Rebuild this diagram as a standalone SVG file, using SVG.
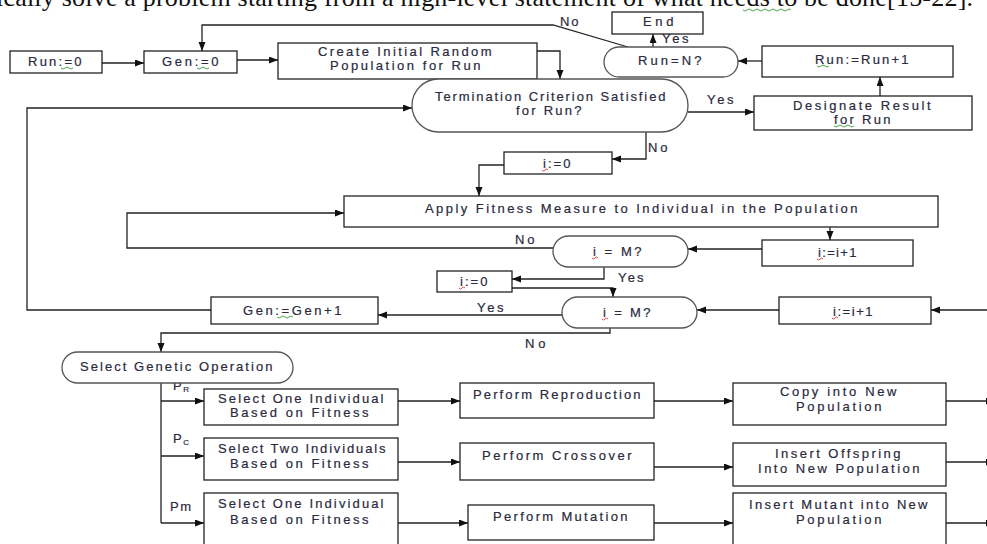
<svg xmlns="http://www.w3.org/2000/svg" width="987" height="544" viewBox="0 0 987 544">
<style>
.bx{fill:#fff;stroke:#222;stroke-width:1.3}
.st{fill:#fff;stroke:#555;stroke-width:1.3}
.t{font-family:"Liberation Sans",Arial,sans-serif;font-size:13px;fill:#2a2a40;stroke:#2a2a40;stroke-width:0.2;letter-spacing:1.5px}
.l{font-family:"Liberation Sans",Arial,sans-serif;font-size:13px;fill:#2a2a40;stroke:#2a2a40;stroke-width:0.2;letter-spacing:1.5px}
.c{fill:none;stroke:#222;stroke-width:1.3;marker-end:url(#ah)}
.cn{fill:none;stroke:#222;stroke-width:1.3}
.sg{fill:none;stroke:#3a9a3a;stroke-width:0.9}
.sr{fill:none;stroke:#e03030;stroke-width:0.9}
</style>
<defs>
<marker id="ah" markerUnits="userSpaceOnUse" markerWidth="10" markerHeight="8" refX="9" refY="3.5" orient="auto">
<path d="M0,0 L9,3.5 L0,7 z" fill="#111"/>
</marker>
</defs>
<rect width="987" height="544" fill="#fff"/>
<text x="-4" y="6" font-family="'Liberation Serif','Times New Roman',serif" font-size="26" fill="#111" textLength="977" lengthAdjust="spacing">ically solve a problem starting from a high-level statement of what needs to be done[15-22].</text>
<path class="sg" d="M743,10 q2,2 4,0 t4,0 t4,0 t4,0 t4,0 t4,0 t4,0 t4,0 t4,0 t4,0 t4,0 t4,0"/>

<g id="connectors">
<path class="c" d="M102,63 H144"/>
<path class="c" d="M237,60 H278"/>
<path class="c" d="M537,51 H560 V79"/>
<path class="c" d="M628,47 L553,25 H202 V51"/>
<path class="c" d="M653,47 V34"/>
<path class="c" d="M762,61 H738"/>
<path class="c" d="M880,96 V77"/>
<path class="c" d="M688,112 H754"/>
<path class="c" d="M646,132 V159 H612"/>
<path class="c" d="M504,165 H479 V196"/>
<path class="c" d="M830,227 V240"/>
<path class="c" d="M762,249 H688"/>
<path class="c" d="M553,248 H127 V213 H344"/>
<path class="c" d="M604,267 V279 H512"/>
<path class="c" d="M512,288 H613 V297"/>
<path class="c" d="M995,310 H931"/>
<path class="c" d="M779,310 H697"/>
<path class="c" d="M562,315 H378"/>
<path class="c" d="M211,310 H27 V108 H412"/>
<path class="c" d="M610,328 V333 H161 V352"/>
<path class="cn" d="M161,383 V523"/>
<path class="c" d="M161,401 H204"/>
<path class="c" d="M161,456 H204"/>
<path class="c" d="M161,523 H204"/>
<path class="c" d="M398,401 H460"/>
<path class="c" d="M654,401 H733"/>
<path class="c" d="M946,401 H995"/>
<path class="c" d="M398,462 H460"/>
<path class="c" d="M654,467 H733"/>
<path class="c" d="M946,462 H995"/>
<path class="c" d="M398,523 H468"/>
<path class="c" d="M654,523 H733"/>
<path class="c" d="M946,523 H995"/>
<text class="l" x="560" y="26" textLength="20">No</text>
<text class="l" x="662" y="43" textLength="28">Yes</text>
<text class="l" x="707" y="104" textLength="28">Yes</text>
<text class="l" x="648" y="152" textLength="21">No</text>
<text class="l" x="515" y="244" textLength="21">No</text>
<text class="l" x="618" y="282" textLength="27">Yes</text>
<text class="l" x="477" y="312" textLength="28">Yes</text>
<text class="l" x="525" y="348" textLength="22">No</text>
<text class="l" x="173" y="390">P<tspan font-size="8" dy="2">R</tspan></text>
<text class="l" x="173" y="443">P<tspan font-size="8" dy="2">C</tspan></text>
<text class="l" x="170" y="511">Pm</text>
</g>

<g id="n-run0"><rect class="bx" x="10" y="51" width="92" height="22"/><text class="t" x="28" y="66" textLength="55">Run:=0</text><path class="sg" d="M61,68 q2,2 4,0 t4,0 t4,0"/></g>
<g id="n-gen0"><rect class="bx" x="144" y="51" width="93" height="22"/><text class="t" x="162" y="66" textLength="58">Gen:=0</text><path class="sg" d="M197,68 q2,2 4,0 t4,0 t4,0"/></g>
<g id="n-create"><rect class="bx" x="278" y="43" width="259" height="36"/><text class="t" x="318" y="56" textLength="175">Create Initial Random</text><text class="t" x="330" y="70" textLength="152">Population for Run</text></g>
<g id="n-term"><rect class="st" x="412" y="79" width="276" height="53" rx="26.5"/><text class="t" x="435" y="101" textLength="232">Termination Criterion Satisfied</text><text class="t" x="516" y="115" textLength="67">for Run?</text></g>
<g id="n-end"><rect class="bx" x="612" y="12" width="91" height="22"/><text class="t" x="643" y="26" textLength="32">End</text></g>
<g id="n-runN"><rect class="st" x="604" y="47" width="134" height="30" rx="15"/><text class="t" x="638" y="65" textLength="65">Run=N?</text></g>
<g id="n-runinc"><rect class="bx" x="762" y="46" width="191" height="31"/><text class="t" x="815" y="64" textLength="95">Run:=Run+1</text><path class="sg" d="M817,66 q2,2 4,0 t4,0 t4,0"/></g>
<g id="n-designate"><rect class="bx" x="754" y="96" width="218" height="34"/><text class="t" x="793" y="110" textLength="139">Designate Result</text><text class="t" x="834" y="124" textLength="58">for Run</text><path class="sg" d="M834,126 q2,2 4,0 t4,0 t4,0 t4,0 t4,0"/></g>
<g id="n-i0a"><rect class="bx" x="504" y="152" width="108" height="22"/><text class="t" x="543" y="168" textLength="29">i:=0</text><path class="sr" d="M542,170 q1.5,2 3,0 t3,0"/></g>
<g id="n-apply"><rect class="bx" x="344" y="196" width="594" height="31"/><text class="t" x="425" y="213" textLength="434">Apply Fitness Measure to Individual in the Population</text></g>
<g id="n-iMa"><rect class="st" x="553" y="236" width="135" height="31" rx="15.5"/><text class="t" x="593" y="256" textLength="50">i = M?</text><path class="sr" d="M592,258 q1.5,2 3,0 t3,0"/></g>
<g id="n-iinca"><rect class="bx" x="762" y="240" width="151" height="26"/><text class="t" x="818" y="257" textLength="40">i:=i+1</text><path class="sr" d="M817,259 q1.5,2 3,0 t3,0"/></g>
<g id="n-i0b"><rect class="bx" x="437" y="271" width="75" height="21"/><text class="t" x="460" y="286" textLength="29">i:=0</text><path class="sr" d="M459,288 q1.5,2 3,0 t3,0"/></g>
<g id="n-iMb"><rect class="st" x="562" y="297" width="135" height="31" rx="15.5"/><text class="t" x="603" y="317" textLength="49">i = M?</text><path class="sr" d="M602,319 q1.5,2 3,0 t3,0"/></g>
<g id="n-iincb"><rect class="bx" x="779" y="297" width="152" height="27"/><text class="t" x="833" y="316" textLength="41">i:=i+1</text><path class="sr" d="M832,318 q1.5,2 3,0 t3,0"/></g>
<g id="n-geninc"><rect class="bx" x="211" y="297" width="167" height="27"/><text class="t" x="243" y="315" textLength="100">Gen:=Gen+1</text><path class="sg" d="M277,317 q2,2 4,0 t4,0 t4,0 t4,0"/></g>
<g id="n-select"><rect class="st" x="62" y="352" width="231" height="31" rx="15.5"/><text class="t" x="80" y="371" textLength="194">Select Genetic Operation</text></g>
<g id="n-sel1"><rect class="bx" x="204" y="389" width="194" height="36"/><text class="t" x="218" y="403" textLength="167">Select One Individual</text><text class="t" x="230" y="417" textLength="140">Based on Fitness</text></g>
<g id="n-repro"><rect class="bx" x="460" y="383" width="194" height="35"/><text class="t" x="473" y="399" textLength="169">Perform Reproduction</text></g>
<g id="n-copy"><rect class="bx" x="733" y="383" width="213" height="42"/><text class="t" x="780" y="396" textLength="118">Copy into New</text><text class="t" x="796" y="411" textLength="87">Population</text></g>
<g id="n-sel2"><rect class="bx" x="204" y="438" width="194" height="42"/><text class="t" x="218" y="453" textLength="169">Select Two Individuals</text><text class="t" x="230" y="468" textLength="140">Based on Fitness</text></g>
<g id="n-cross"><rect class="bx" x="460" y="443" width="194" height="37"/><text class="t" x="482" y="460" textLength="151">Perform Crossover</text></g>
<g id="n-offspring"><rect class="bx" x="733" y="443" width="213" height="43"/><text class="t" x="775" y="458" textLength="127">Insert Offspring</text><text class="t" x="758" y="473" textLength="163">Into New Population</text></g>
<g id="n-sel3"><rect class="bx" x="204" y="493" width="194" height="60"/><text class="t" x="218" y="508" textLength="167">Select One Individual</text><text class="t" x="230" y="524" textLength="140">Based on Fitness</text></g>
<g id="n-mut"><rect class="bx" x="468" y="505" width="186" height="35"/><text class="t" x="493" y="521" textLength="136">Perform Mutation</text></g>
<g id="n-mutant"><rect class="bx" x="733" y="493" width="213" height="60"/><text class="t" x="749" y="509" textLength="180">Insert Mutant into New</text><text class="t" x="796" y="524" textLength="87">Population</text></g>
</svg>
